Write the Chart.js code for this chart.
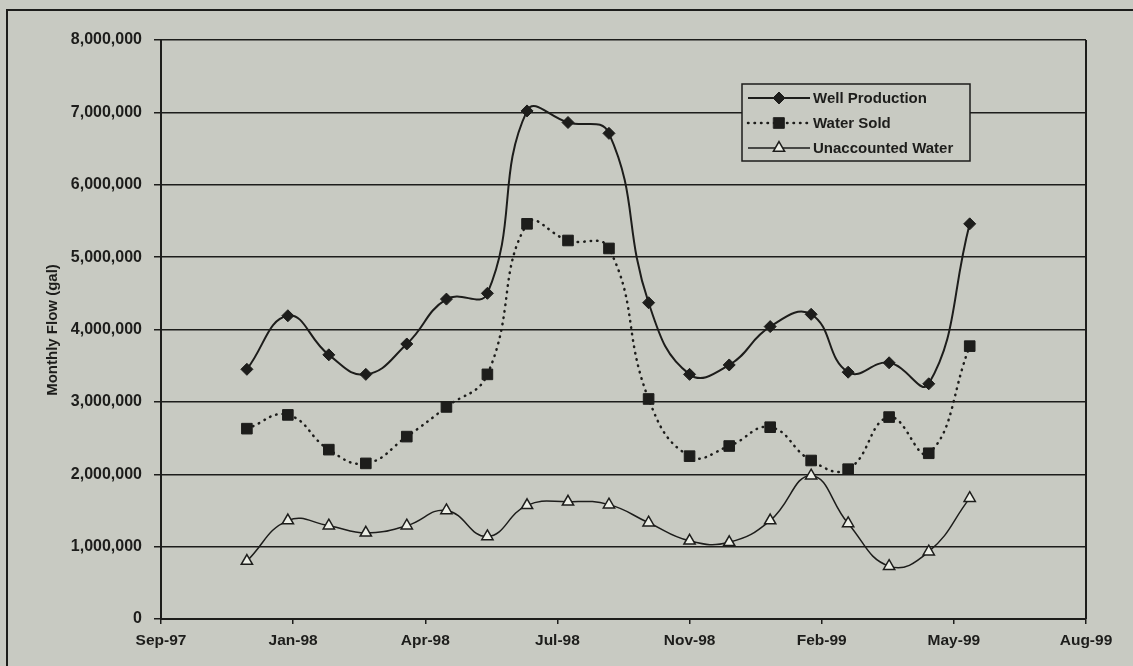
<!DOCTYPE html>
<html>
<head>
<meta charset="utf-8">
<script src="https://cdn.jsdelivr.net/npm/chart.js@4.4.1/dist/chart.umd.min.js"></script>
<style>
  html, body { margin: 0; padding: 0; background: #c8cac2; }
  canvas { display: block; }
</style>
</head>
<body>
<canvas id="flowChart" width="1133" height="666"></canvas>
<script>
// Monthly flow readings (first of month)
var months = [
  "1997-12-01", "1998-01-01", "1998-02-01", "1998-03-01", "1998-04-01",
  "1998-05-01", "1998-06-01", "1998-07-01", "1998-08-01", "1998-09-01",
  "1998-10-01", "1998-11-01", "1998-12-01", "1999-01-01", "1999-02-01",
  "1999-03-01", "1999-04-01", "1999-05-01", "1999-06-01"
];
var wellProduction = [
  3450000, 4190000, 3650000, 3380000, 3800000, 4420000, 4500000, 7020000,
  6860000, 6710000, 4370000, 3380000, 3510000, 4040000, 4210000, 3410000,
  3540000, 3250000, 5460000
];
var waterSold = [
  2630000, 2820000, 2340000, 2150000, 2520000, 2930000, 3380000, 5460000,
  5230000, 5120000, 3040000, 2250000, 2390000, 2650000, 2190000, 2070000,
  2790000, 2290000, 3770000
];
var unaccountedWater = [
  800000, 1360000, 1290000, 1190000, 1290000, 1500000, 1140000, 1570000,
  1620000, 1580000, 1330000, 1080000, 1060000, 1360000, 1980000, 1320000,
  730000, 930000, 1670000
];

// date axis ticks as spreadsheet serial days, 100 days apart
var xTickSerials = [35700, 35800, 35900, 36000, 36100, 36200, 36300, 36400];
var xTickLabels = ["Sep-97", "Jan-98", "Apr-98", "Jul-98", "Nov-98", "Feb-99", "May-99", "Aug-99"];
var yTicks = [0, 1000000, 2000000, 3000000, 4000000, 5000000, 6000000, 7000000, 8000000];

var INK = "#1d1d1b";
var PAPER = "#c8cac2";
var FONT = '"Liberation Sans", Arial, sans-serif';

function toSerial(iso) {
  var t = Date.parse(iso + "T00:00:00Z");
  return Math.round((t - Date.UTC(1899, 11, 30)) / 86400000);
}

function points(values) {
  return values.map(function (v, i) {
    return { x: toSerial(months[i]), y: v };
  });
}

function number_format(n) {
  return String(n).replace(/\B(?=(\d{3})+(?!\d))/g, ",");
}

// page frame, plot border, axis title and the boxed legend
var decorations = {
  id: "decorations",
  beforeDraw: function (chart) {
    var ctx = chart.ctx;
    ctx.save();
    ctx.fillStyle = PAPER;
    ctx.fillRect(0, 0, chart.width, chart.height);
    ctx.strokeStyle = INK;
    ctx.lineWidth = 2;
    ctx.beginPath();
    ctx.moveTo(7, chart.height);
    ctx.lineTo(7, 10);
    ctx.lineTo(chart.width, 10);
    ctx.stroke();
    ctx.restore();
  },
  afterDraw: function (chart) {
    var ctx = chart.ctx;
    var a = chart.chartArea;
    ctx.save();

    // right edge of the plot area
    ctx.strokeStyle = INK;
    ctx.lineWidth = 2;
    ctx.beginPath();
    ctx.moveTo(a.right, a.top);
    ctx.lineTo(a.right, a.bottom);
    ctx.stroke();

    // y axis title
    ctx.fillStyle = INK;
    ctx.font = "bold 15px " + FONT;
    ctx.textAlign = "center";
    ctx.textBaseline = "middle";
    ctx.translate(53, 330);
    ctx.rotate(-Math.PI / 2);
    ctx.fillText("Monthly Flow (gal)", 0, 0);
    ctx.setTransform(1, 0, 0, 1, 0, 0);

    // legend
    var bx = 742, by = 84, bw = 228, bh = 77;
    ctx.fillStyle = PAPER;
    ctx.fillRect(bx, by, bw, bh);
    ctx.strokeStyle = INK;
    ctx.lineWidth = 1.5;
    ctx.strokeRect(bx, by, bw, bh);

    ctx.font = "bold 15px " + FONT;
    ctx.textAlign = "left";
    chart.data.datasets.forEach(function (ds, i) {
      var y = by + 14 + i * 25;
      ctx.save();
      ctx.strokeStyle = ds.borderColor;
      ctx.lineWidth = ds.borderWidth;
      ctx.lineCap = ds.borderCapStyle || "butt";
      ctx.setLineDash(ds.borderDash || []);
      ctx.beginPath();
      ctx.moveTo(bx + 6, y);
      ctx.lineTo(bx + 68, y);
      ctx.stroke();
      ctx.setLineDash([]);
      ctx.fillStyle = ds.pointBackgroundColor;
      ctx.strokeStyle = ds.pointBorderColor;
      ctx.lineWidth = ds.pointBorderWidth;
      Chart.helpers.drawPoint(ctx, {
        pointStyle: ds.pointStyle,
        radius: ds.pointRadius,
        rotation: 0,
        borderWidth: ds.pointBorderWidth
      }, bx + 37, y);
      ctx.restore();
      ctx.fillStyle = INK;
      ctx.fillText(ds.label, bx + 71, y + 1);
    });

    ctx.restore();
  }
};

var ctx = document.getElementById("flowChart").getContext("2d");
var flowChart = new Chart(ctx, {
  type: "line",
  data: {
    datasets: [
      {
        label: "Well Production",
        data: points(wellProduction),
        borderColor: INK,
        borderWidth: 2,
        tension: 0.45,
        pointStyle: "rectRot",
        pointRadius: 6,
        pointBackgroundColor: INK,
        pointBorderColor: INK,
        pointBorderWidth: 1
      },
      {
        label: "Water Sold",
        data: points(waterSold),
        borderColor: INK,
        borderWidth: 2.5,
        borderDash: [0.5, 6],
        borderCapStyle: "round",
        tension: 0.45,
        pointStyle: "rect",
        pointRadius: 7.5,
        pointBackgroundColor: INK,
        pointBorderColor: INK,
        pointBorderWidth: 1
      },
      {
        label: "Unaccounted Water",
        data: points(unaccountedWater),
        borderColor: INK,
        borderWidth: 1.5,
        tension: 0.45,
        pointStyle: "triangle",
        pointRadius: 6.5,
        pointBackgroundColor: "#eceee6",
        pointBorderColor: INK,
        pointBorderWidth: 1.5
      }
    ]
  },
  options: {
    responsive: false,
    animation: false,
    events: [],
    layout: {
      padding: { left: 0, right: 47, top: 40, bottom: 0 }
    },
    scales: {
      x: {
        type: "linear",
        min: xTickSerials[0],
        max: xTickSerials[xTickSerials.length - 1],
        afterBuildTicks: function (scale) {
          scale.ticks = xTickSerials.map(function (v) { return { value: v }; });
        },
        afterFit: function (scale) {
          scale.height = 47;
        },
        grid: {
          drawOnChartArea: false,
          color: INK,
          lineWidth: 1.5,
          tickLength: 5
        },
        border: { display: true, color: INK, width: 2 },
        ticks: {
          color: INK,
          padding: 7,
          maxRotation: 0,
          autoSkip: false,
          font: { family: FONT, size: 15.5, weight: "bold" },
          callback: function (value, index) {
            return xTickLabels[index];
          }
        }
      },
      y: {
        min: yTicks[0],
        max: yTicks[yTicks.length - 1],
        afterBuildTicks: function (scale) {
          scale.ticks = yTicks.map(function (v) { return { value: v }; });
        },
        afterFit: function (scale) {
          scale.width = 161;
        },
        grid: {
          color: INK,
          lineWidth: 1.5,
          tickLength: 7
        },
        border: { display: true, color: INK, width: 2 },
        ticks: {
          color: INK,
          padding: 12,
          font: { family: FONT, size: 16, weight: "bold" },
          callback: function (value) {
            return number_format(value);
          }
        }
      }
    },
    plugins: {
      legend: { display: false },
      tooltip: { enabled: false }
    }
  },
  plugins: [decorations]
});
</script>
</body>
</html>
